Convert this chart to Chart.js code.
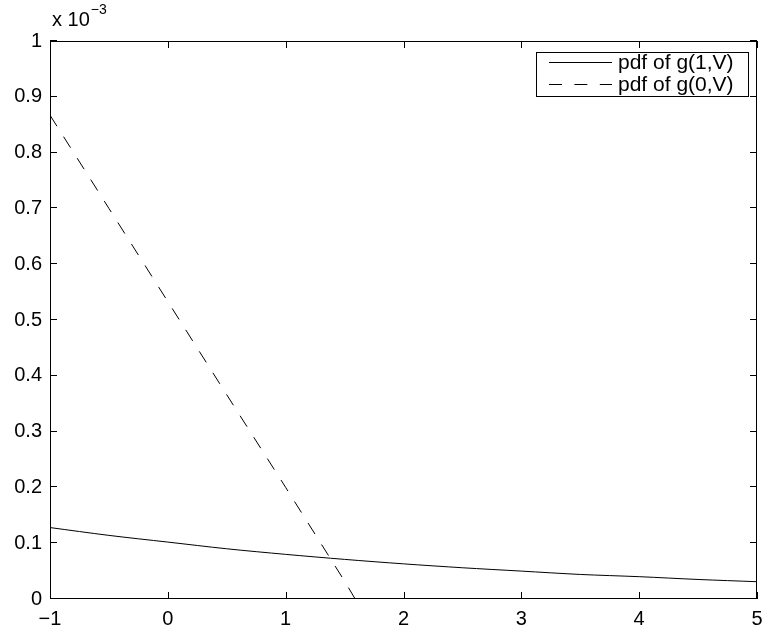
<!DOCTYPE html>
<html>
<head>
<meta charset="utf-8">
<script src="https://cdn.jsdelivr.net/npm/chart.js@4.4.1/dist/chart.umd.min.js"></script>
<style>
  html, body { margin: 0; padding: 0; background: #ffffff; }
  #wrap { width: 765px; height: 626px; }
</style>
</head>
<body>
<div id="wrap"><canvas id="c" width="765" height="626"></canvas></div>
<script>
// ---- data (y in units of 1e-3) ----
const xTicks = [-1, 0, 1, 2, 3, 4, 5];
const yTicks = [0, 0.1, 0.2, 0.3, 0.4, 0.5, 0.6, 0.7, 0.8, 0.9, 1];
const seriesLabels = ['pdf of g(1,V)', 'pdf of g(0,V)'];
const x1 = [-1, -0.5, 0, 0.5, 1, 1.5, 2, 2.5, 3, 3.5, 4, 4.5, 5];
const y1 = [0.128, 0.114, 0.102, 0.090, 0.080, 0.071, 0.063, 0.056, 0.050, 0.044, 0.040, 0.035, 0.031];
const x0 = [-1, -0.5, 0, 0.5, 1, 1.5, 1.59];
const y0 = [0.867, 0.700, 0.533, 0.366, 0.200, 0.032, 0.0];
const exponentLabel = 'x 10';
const exponentSup = '\u22123';

const FONT = '"Liberation Sans", Arial, Helvetica, sans-serif';

function pts(xs, ys) { return xs.map((x, i) => ({ x: x, y: ys[i] })); }

const frame = {
  id: 'frame',
  afterDraw(chart) {
    const ctx = chart.ctx, a = chart.chartArea;
    const xs = chart.scales.x, ys = chart.scales.y;
    ctx.save();
    ctx.strokeStyle = '#000';
    ctx.lineWidth = 1;
    ctx.setLineDash([]);
    ctx.strokeRect(Math.round(a.left) + 0.5, Math.round(a.top) + 0.5,
                   Math.round(a.right - a.left) - 1, Math.round(a.bottom - a.top) - 1);
    const TL = 7;
    ctx.beginPath();
    xTicks.forEach(v => {
      const px = Math.round(xs.getPixelForValue(v)) + 0.5;
      ctx.moveTo(px, a.bottom); ctx.lineTo(px, a.bottom - TL);
      ctx.moveTo(px, a.top); ctx.lineTo(px, a.top + TL);
    });
    yTicks.forEach(v => {
      const py = Math.round(ys.getPixelForValue(v)) - 0.5;
      ctx.moveTo(a.left, py); ctx.lineTo(a.left + TL, py);
      ctx.moveTo(a.right, py); ctx.lineTo(a.right - TL, py);
    });
    ctx.stroke();

    // exponent label
    ctx.fillStyle = '#000';
    ctx.textBaseline = 'alphabetic';
    ctx.textAlign = 'left';
    ctx.font = '20px ' + FONT;
    ctx.fillText(exponentLabel, a.left + 2, 26);
    const w = ctx.measureText(exponentLabel).width;
    ctx.font = '14px ' + FONT;
    ctx.fillText(exponentSup, a.left + 2 + w + 1, 14);

    // legend
    const lx = 536, ly = 52, lw = 212, lh = 44;
    ctx.fillStyle = '#fff';
    ctx.fillRect(lx, ly, lw, lh);
    ctx.strokeStyle = '#000';
    ctx.lineWidth = 1;
    ctx.strokeRect(lx + 0.5, ly + 0.5, lw, lh);
    ctx.font = '21px ' + FONT;
    ctx.textBaseline = 'middle';
    chart.data.datasets.forEach((ds, i) => {
      const yy = ly + 10.5 + i * 22;
      ctx.beginPath();
      ctx.setLineDash(ds.borderDash || []);
      ctx.moveTo(549, yy); ctx.lineTo(612, yy);
      ctx.stroke();
      ctx.setLineDash([]);
      ctx.fillStyle = '#000';
      ctx.fillText(ds.label, 618, yy + 1);
    });
    ctx.restore();
  }
};

new Chart(document.getElementById('c'), {
  type: 'scatter',
  data: {
    datasets: [
      { label: seriesLabels[0], data: pts(x1, y1), showLine: true, borderColor: '#000',
        borderWidth: 1, pointRadius: 0, fill: false, tension: 0.3 },
      { label: seriesLabels[1], data: pts(x0, y0), showLine: true, borderColor: '#000',
        borderWidth: 1, pointRadius: 0, fill: false, borderDash: [13, 12.4], tension: 0 }
    ]
  },
  options: {
    responsive: false,
    animation: false,
    devicePixelRatio: 1,
    layout: { padding: { top: 41, right: 8, left: 0, bottom: 0 } },
    plugins: { legend: { display: false }, tooltip: { enabled: false } },
    scales: {
      x: {
        type: 'linear', min: -1, max: 5,
        afterBuildTicks: s => { s.ticks = xTicks.map(v => ({ value: v })); },
        afterFit: s => { s.height = 27; s.paddingLeft = 0; s.paddingRight = 0; },
        grid: { display: false, drawTicks: false },
        border: { display: false },
        ticks: { color: '#000', font: { family: FONT, size: 20 }, padding: 8,
                 maxRotation: 0, autoSkip: false,
                 callback: v => (v < 0 ? '\u2212' + Math.abs(v) : String(v)) }
      },
      y: {
        type: 'linear', min: 0, max: 1,
        afterBuildTicks: s => { s.ticks = yTicks.map(v => ({ value: v })); },
        afterFit: s => { s.width = 50; s.paddingTop = 0; s.paddingBottom = 0; },
        grid: { display: false, drawTicks: false },
        border: { display: false },
        ticks: { color: '#000', font: { family: FONT, size: 20 }, padding: 8, autoSkip: false,
                 callback: v => String(Math.round(v * 10) / 10) }
      }
    }
  },
  plugins: [frame]
});
</script>
</body>
</html>
